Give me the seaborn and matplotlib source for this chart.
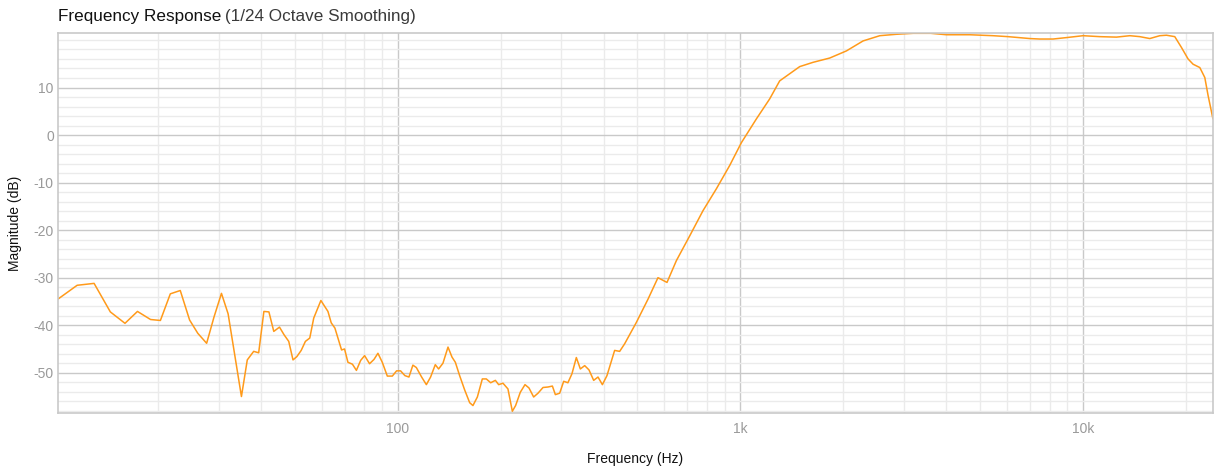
import numpy as np
import pandas as pd
import matplotlib
matplotlib.use("Agg")
import matplotlib.pyplot as plt
import matplotlib.ticker as mticker
import seaborn as sns

# frequency (Hz) and magnitude (dB)
freq_hz = [
    10.2, 11.6, 13.0, 14.5, 16.0, 17.4, 19.0, 20.3, 21.7, 23.2,
    24.7, 26.1, 27.7, 29.1, 30.6, 32.0, 33.3, 35.0, 36.4, 38.0,
    39.3, 40.7, 42.1, 43.5, 45.2, 46.6, 48.1, 49.5, 50.8, 52.3,
    53.8, 55.4, 56.9, 59.7, 62.6, 64.0, 65.6, 68.6, 70.0, 71.6,
    73.8, 75.8, 78.0, 80.1, 82.8, 85.3, 87.6, 90.2, 93.3, 96.5,
    99.3, 102.0, 105.0, 107.9, 110.8, 113.4, 115.9, 117.5, 121.3, 124.8,
    128.8, 131.7, 135.6, 140.3, 144.1, 147.4, 151.7, 156.9, 162.3, 165.9,
    170.9, 176.7, 181.5, 186.9, 192.9, 197.2, 203.0, 209.9, 216.2, 221.0,
    228.1, 235.4, 241.8, 249.5, 256.9, 265.7, 274.6, 283.0, 288.7, 297.2,
    305.3, 314.1, 322.8, 332.4, 341.5, 351.6, 361.9, 373.5, 384.5, 396.0,
    408.4, 430.0, 444.8, 460.0, 497.7, 538.3, 575.4, 611.4, 651.3, 712.3,
    778.8, 852.1, 931.8, 1008, 1115, 1219, 1304, 1395, 1492, 1632,
    1825, 2042, 2284, 2555, 2860, 3200, 3600, 4000, 4677, 5470,
    6052, 7000, 7487, 8190, 8960, 10020, 11210, 12540, 13720, 14670,
    15690, 16780, 17550, 18560, 19420, 20300, 20990, 21960, 22710, 23220,
    23990,
]
magnitude_db = [
    -34.5, -31.6, -31.2, -37.2, -39.6, -37.1, -38.8, -39.0, -33.4, -32.7,
    -38.9, -41.7, -43.8, -38.3, -33.3, -37.6, -45.3, -55.0, -47.3, -45.5,
    -45.8, -37.1, -37.2, -41.3, -40.4, -42.0, -43.4, -47.3, -46.6, -45.3,
    -43.4, -42.7, -38.5, -34.8, -37.1, -39.5, -40.6, -45.2, -45.0, -47.8,
    -48.2, -49.5, -47.4, -46.4, -48.1, -47.2, -45.9, -47.8, -50.7, -50.7,
    -49.6, -49.6, -50.6, -50.9, -48.4, -48.9, -50.1, -50.9, -52.5, -50.9,
    -48.3, -49.2, -48.0, -44.6, -46.7, -47.8, -50.6, -53.6, -56.3, -56.9,
    -55.1, -51.3, -51.3, -52.1, -51.6, -52.5, -52.2, -53.4, -58.1, -56.9,
    -54.1, -52.5, -53.2, -55.1, -54.3, -53.1, -53.0, -52.8, -54.6, -54.3,
    -51.8, -52.1, -50.2, -46.8, -49.2, -48.5, -49.4, -51.6, -50.9, -52.5,
    -50.6, -45.3, -45.5, -43.9, -39.4, -34.5, -30.0, -31.0, -26.4, -21.2,
    -15.9, -11.3, -6.4, -1.6, 3.4, 7.6, 11.4, 12.9, 14.4, 15.3,
    16.2, 17.7, 19.8, 20.9, 21.2, 21.4, 21.4, 21.1, 21.1, 20.9,
    20.7, 20.3, 20.2, 20.2, 20.5, 20.9, 20.7, 20.6, 20.9, 20.7,
    20.3, 20.9, 21.0, 20.7, 18.4, 16.0, 14.9, 14.2, 12.1, 8.3,
    3.4,
]

x_ticks = [100, 1000, 10000]
x_tick_labels = ["100", "1k", "10k"]
y_ticks = [-50, -40, -30, -20, -10, 0, 10]

df = pd.DataFrame({"freq": freq_hz, "mag": magnitude_db})

sns.set_theme(style="white")
plt.rcParams["font.family"] = ["Liberation Sans", "DejaVu Sans"]
plt.rcParams["axes.unicode_minus"] = False

fig = plt.figure(figsize=(12.16, 4.66), dpi=100)
ax = fig.add_axes([0.0477, 0.1144, 0.9498, 0.8141])

sns.lineplot(data=df, x="freq", y="mag", ax=ax, color="#ff9a1a",
             linewidth=1.1, estimator=None, sort=False)

ax.set_xscale("log")
ax.set_xlim(min(freq_hz), max(freq_hz))
ax.set_ylim(min(magnitude_db) - 0.3, max(magnitude_db))

ax.xaxis.set_major_locator(mticker.FixedLocator(x_ticks))
ax.xaxis.set_major_formatter(mticker.FixedFormatter(x_tick_labels))
ax.xaxis.set_minor_locator(mticker.LogLocator(base=10, subs=np.arange(2, 10)))
ax.xaxis.set_minor_formatter(mticker.NullFormatter())
ax.yaxis.set_major_locator(mticker.FixedLocator(y_ticks))
ax.yaxis.set_minor_locator(mticker.MultipleLocator(2))

ax.grid(which="major", color="#c9c9c9", linewidth=1.0)
ax.grid(which="minor", color="#ebebeb", linewidth=1.0)
ax.set_axisbelow(True)

for s in ax.spines.values():
    s.set_color("#c9c9c9")
    s.set_linewidth(1.2)

ax.tick_params(which="both", length=0, labelsize=10, labelcolor="#9a9a9a")
ax.tick_params(axis="x", pad=7)
ax.tick_params(axis="y", pad=3)

ax.set_xlabel("Frequency (Hz)", fontsize=10, color="#111111", labelpad=11)
ax.set_ylabel("Magnitude (dB)", fontsize=10, color="#111111", labelpad=8)

# title in two parts
t1 = fig.text(0.0477, 0.965, "Frequency Response", fontsize=12.3,
              color="#111111", va="center", ha="left")
fig.canvas.draw()
bb = t1.get_window_extent(renderer=fig.canvas.get_renderer())
x2 = bb.x1 / fig.bbox.width + 0.003
fig.text(x2, 0.965, "(1/24 Octave Smoothing)", fontsize=12.3,
         color="#3a3a3a", va="center", ha="left")

fig.savefig("out.png", dpi=100)
